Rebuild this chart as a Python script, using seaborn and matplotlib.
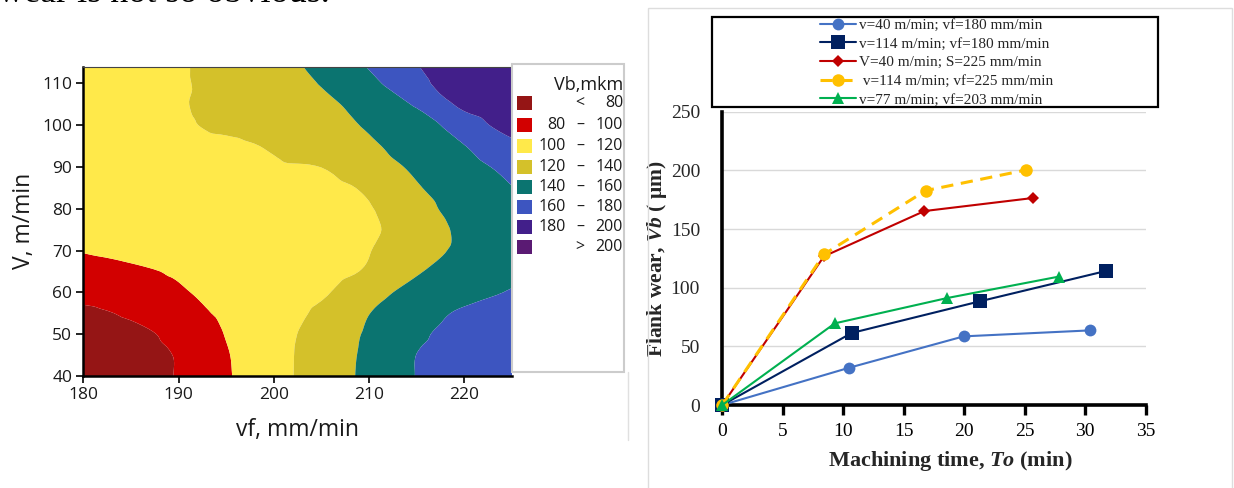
import numpy as np
import matplotlib
matplotlib.use("Agg")
import matplotlib.pyplot as plt
import matplotlib.tri as mtri
import seaborn as sns
from matplotlib.patches import Rectangle
from matplotlib.lines import Line2D

# ---------------- left panel: contour data (Vb, mkm) ----------------
vf_values = [180, 185, 190, 195, 200, 205, 210, 215, 220, 225]
v_values = [40, 45, 50, 55, 60, 65, 70, 75, 80, 85, 90, 95, 100, 105, 110, 114]
vb_v40 = [62, 71.4, 81.3, 98, 113.6, 129.0, 144.6, 160.5, 167.7, 175]
vb_v45 = [66, 73.7, 81.5, 98.7, 113.7, 128.7, 143.9, 160.2, 167, 174]
vb_v50 = [71, 75.5, 85, 100.8, 113.5, 127.4, 142.5, 156.6, 167, 172]
vb_v55 = [75, 82.9, 93.1, 103.2, 112, 123.5, 139.7, 151.5, 163, 167]
vb_v60 = [88, 93.2, 98.4, 104.8, 111.7, 117.5, 133.5, 145.5, 152.8, 161.4]
vb_v65 = [93.2, 97.3, 101.7, 106.5, 111.4, 113, 122.5, 138.5, 146.8, 155]
vb_v70 = [100.7, 104, 107, 110, 113, 115.5, 119.5, 133, 143.5, 152]
vb_v75 = [104, 106.5, 109, 111.5, 114, 116.5, 117.5, 130.5, 143.5, 151]
vb_v80 = [106, 108.5, 111, 113, 115, 117, 119, 133.5, 147, 154]
vb_v85 = [108, 110, 112, 114, 116, 115, 123, 138.5, 150, 159.5]
vb_v90 = [110, 112, 114, 116, 118, 120.2, 132, 143, 153.9, 164.8]
vb_v95 = [112, 113.5, 115, 116.5, 122, 130.7, 137.5, 148.2, 159.5, 175]
vb_v100 = [114, 116, 118, 123.3, 129.2, 134, 141.9, 150, 171, 188]
vb_v105 = [115, 117, 119, 124.7, 131.2, 136.5, 147, 162.3, 184, 192]
vb_v110 = [116, 118, 118.5, 125.8, 133.1, 140.9, 155.1, 175, 190, 196]
vb_v114 = [116.5, 118, 118.5, 126.8, 133.5, 145, 161.1, 179.3, 188.3, 197]

band_levels = [0, 80, 100, 120, 140, 160, 180, 200, 300]
band_colors = ["#951515", "#D20000", "#FFE94A", "#D4C12A",
               "#0B7470", "#3D55C0", "#421F8A", "#5A1A73"]
band_low = ["", "80", "100", "120", "140", "160", "180", ""]
band_sep = ["<", "\u2013", "\u2013", "\u2013", "\u2013", "\u2013", "\u2013", ">"]
band_high = ["80", "100", "120", "140", "160", "180", "200", "200"]

# ---------------- right panel: flank wear curves ----------------
series_labels = ["v=40 m/min; vf=180 mm/min", "v=114 m/min; vf=180 mm/min",
                 "V=40 m/min; S=225 mm/min", " v=114 m/min; vf=225 mm/min",
                 "v=77 m/min; vf=203 mm/min"]
t_s1 = [0, 10.5, 19.95, 30.4]
vb_s1 = [0, 31.8, 58.5, 63.6]
t_s2 = [0, 10.7, 21.3, 31.7]
vb_s2 = [0, 61.4, 88.4, 114.2]
t_s3 = [0, 8.4, 16.7, 25.65]
vb_s3 = [0, 126.7, 165.3, 176.4]
t_s4 = [0, 8.4, 16.8, 25.1]
vb_s4 = [0, 128.4, 182.7, 200.3]
t_s5 = [0, 9.3, 18.6, 27.8]
vb_s5 = [0, 69.6, 91.2, 109.4]

W, H = 1234, 488
sns.set_theme(style="white")
plt.rcParams["font.family"] = ["Open Sans", "DejaVu Sans"]
plt.rcParams["mathtext.fontset"] = "custom"
plt.rcParams["mathtext.rm"] = "Liberation Serif"
plt.rcParams["mathtext.it"] = "Liberation Serif:italic"
plt.rcParams["mathtext.bf"] = "Liberation Serif:bold"
plt.rcParams["mathtext.bfit"] = "Liberation Serif:italic:bold"

fig = plt.figure(figsize=(W / 100, H / 100), dpi=100)
fig.patch.set_facecolor("white")


def fx(x):
    return x / W


def fy(y):
    return 1 - y / H


# top page text (cut off in the reference as well)
fig.text(-0.002, fy(1.5), "wear is not so obvious.", fontsize=26,
         family="Liberation Serif", va="baseline", ha="left", color="black")

# ---------- left contour ----------
ax1 = fig.add_axes([fx(83.3), fy(376), fx(512 - 83.3), (376 - 66.7) / H])
Z = np.array([vb_v40, vb_v45, vb_v50, vb_v55, vb_v60, vb_v65, vb_v70, vb_v75,
              vb_v80, vb_v85, vb_v90, vb_v95, vb_v100, vb_v105, vb_v110, vb_v114])
GX, GY = np.meshgrid(vf_values, v_values)
tri = mtri.Triangulation(GX.ravel(), GY.ravel())
refiner = mtri.UniformTriRefiner(tri)
interp = mtri.CubicTriInterpolator(tri, Z.ravel(), kind="geom")
tri_f, z_f = refiner.refine_field(Z.ravel(), triinterpolator=interp, subdiv=3)
ax1.tricontourf(tri_f, z_f, levels=band_levels, colors=band_colors,
                antialiased=True)
ax1.set_xlim(180, 225)
ax1.set_ylim(40, 114)
ax1.set_xticks([180, 190, 200, 210, 220])
ax1.set_yticks([40, 50, 60, 70, 80, 90, 100, 110])
ax1.tick_params(axis="both", direction="out", length=5, width=1.2, colors="black",
                labelsize=12.5, pad=3, bottom=True, left=True)
for lab in ax1.get_xticklabels() + ax1.get_yticklabels():
    lab.set_color("#1a1a1a")
for s in ["left", "bottom"]:
    ax1.spines[s].set_color("black")
    ax1.spines[s].set_linewidth(1.8)
ax1.spines["top"].set_color("#444444")
ax1.spines["top"].set_linewidth(0.8)
ax1.spines["right"].set_visible(False)
ax1.set_xlabel("vf, mm/min", fontsize=16.5, color="#1a1a1a")
ax1.set_ylabel("V, m/min", fontsize=16.5, color="#1a1a1a")
ax1.xaxis.set_label_coords(0.50, -0.135)
ax1.yaxis.set_label_coords(-0.11, 0.50)

# contour legend panel
fig.patches.append(Rectangle((fx(512), fy(372)), fx(624 - 512), (372 - 64) / H,
                             transform=fig.transFigure, facecolor="white",
                             edgecolor="#cccccc", lw=1.5, zorder=1))
fig.add_artist(Line2D([fx(627.5), fx(627.5)], [fy(372), fy(440)],
                      transform=fig.transFigure, color="#e0e0e0", lw=1))
fig.text(fx(623), fy(85), "Vb,mkm", fontsize=13, ha="right", va="center",
         color="#1a1a1a")
row_y = [103.3, 125, 146, 166.7, 186.7, 207.3, 226.7, 247.3]
for i in range(len(band_colors)):
    yy = row_y[i]
    fig.patches.append(Rectangle((fx(517), fy(yy + 7)), fx(14.5), 14 / H,
                                 transform=fig.transFigure,
                                 facecolor=band_colors[i], edgecolor="none", zorder=2))
    fig.text(fx(566), fy(yy), band_low[i], fontsize=11.5, ha="right", va="center",
             color="#1a1a1a")
    fig.text(fx(580), fy(yy), band_sep[i], fontsize=11.5, ha="center", va="center",
             color="#1a1a1a")
    fig.text(fx(623), fy(yy), band_high[i], fontsize=11.5, ha="right", va="center",
             color="#1a1a1a")

# ---------- right panel ----------
fig.patches.append(Rectangle((fx(648), fy(492)), fx(1232 - 648), (492 - 8) / H,
                             transform=fig.transFigure, facecolor="none",
                             edgecolor="#dddddd", lw=1, zorder=0))
ax2 = fig.add_axes([fx(722.3), fy(405), fx(1145.7 - 722.3), (405 - 111.7) / H])
ax2.set_facecolor("none")
serif = "Liberation Serif"
sns.lineplot(x=t_s1, y=vb_s1, ax=ax2, color="#4472C4", lw=1.5, marker="o",
             markersize=8.5, markeredgewidth=0, sort=False, estimator=None,
             label=series_labels[0], clip_on=False, zorder=3)
sns.lineplot(x=t_s2, y=vb_s2, ax=ax2, color="#002060", lw=1.5, marker="s",
             markersize=10, markeredgewidth=0, sort=False, estimator=None,
             label=series_labels[1], clip_on=False, zorder=3)
sns.lineplot(x=t_s3, y=vb_s3, ax=ax2, color="#C00000", lw=1.5, marker="D",
             markersize=6.5, markeredgewidth=0, sort=False, estimator=None,
             label=series_labels[2], clip_on=False, zorder=3)
sns.lineplot(x=t_s4, y=vb_s4, ax=ax2, color="#FFC000", lw=2.2, marker="o",
             markersize=9, markeredgewidth=0, sort=False, estimator=None,
             dashes=False, linestyle=(0, (4, 2.5)),
             label=series_labels[3], clip_on=False, zorder=3)
sns.lineplot(x=t_s5, y=vb_s5, ax=ax2, color="#00B050", lw=1.5, marker="^",
             markersize=8.5, markeredgewidth=0, sort=False, estimator=None,
             label=series_labels[4], clip_on=False, zorder=3)
handles, labels = ax2.get_legend_handles_labels()
if ax2.legend_ is not None:
    ax2.legend_.remove()

ax2.set_xlim(0, 35)
ax2.set_ylim(0, 250)
ax2.set_xticks([0, 5, 10, 15, 20, 25, 30, 35])
ax2.set_yticks([0, 50, 100, 150, 200, 250])
ax2.yaxis.grid(True, color="#d9d9d9", lw=1)
ax2.xaxis.grid(False)
ax2.set_axisbelow(True)
for s in ["top", "right"]:
    ax2.spines[s].set_visible(False)
for s in ["left", "bottom"]:
    ax2.spines[s].set_color("black")
    ax2.spines[s].set_linewidth(2.6)
    ax2.spines[s].set_zorder(2)
ax2.tick_params(axis="x", direction="out", length=7, width=2.4, colors="black",
                pad=6, bottom=True)
ax2.tick_params(axis="y", length=0, pad=16, left=False)
for lab in ax2.get_xticklabels() + ax2.get_yticklabels():
    lab.set_fontfamily(serif)
    lab.set_fontsize(14)
ax2.set_xlabel(r"Machining time, $\mathbfit{To}$ (min)", fontsize=16,
               fontweight="bold", family=serif)
ax2.set_ylabel(r"Flank wear, $\mathbfit{Vb}$ ( μm)", fontsize=15.5,
               fontweight="bold", family=serif)
ax2.xaxis.set_label_coords(0.538, -0.15)
ax2.yaxis.set_label_coords(-0.125, 0.50)

# legend box
fig.patches.append(Rectangle((fx(712), fy(107)), fx(1158 - 712), (107 - 17) / H,
                             transform=fig.transFigure, facecolor="white",
                             edgecolor="black", lw=1.6, zorder=1))
leg = fig.legend(handles, labels, loc="center", bbox_to_anchor=(fx(937), fy(62.5)),
                 frameon=False, prop={"family": serif, "size": 11},
                 handlelength=2.3, labelspacing=0.32, handletextpad=0.25,
                 borderpad=0.1)
leg.set_zorder(5)

fig.savefig("out.png", dpi=100, facecolor="white")
